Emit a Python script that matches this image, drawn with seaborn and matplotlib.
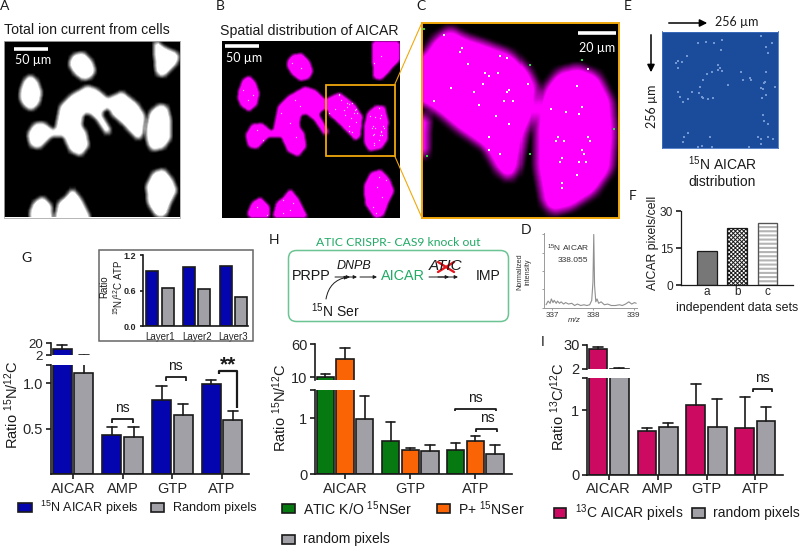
import numpy as np
import pandas as pd
import matplotlib
matplotlib.use('Agg')
import matplotlib.pyplot as plt
import seaborn as sns
from matplotlib.path import Path
from matplotlib.patches import Rectangle, FancyBboxPatch
from matplotlib.colors import LinearSegmentedColormap

sns.set_style('ticks')
plt.rcParams['font.family'] = ['Liberation Sans', 'DejaVu Sans']
plt.rcParams['mathtext.fontset'] = 'custom'
plt.rcParams['mathtext.rm'] = 'Liberation Sans'
plt.rcParams['mathtext.default'] = 'regular'
plt.rcParams['hatch.linewidth'] = 0.7

W, H = 800, 547
DARK = '#1a1a1a'
GRAY = '#a0a0a6'
BLUE = '#0505b0'
GREEN = '#067a10'
ORANGE = '#fb6405'
CRIMSON = '#cc0a62'
AMBER = '#f0a80c'

# panel G
g_names = ['AICAR', 'AMP', 'GTP', 'ATP']
g_pixels = [11.5, 0.43, 0.82, 0.99]
g_pixels_top = [16.5, 0.52, 0.97, 1.04]
g_random = [1.11, 0.41, 0.65, 0.60]
g_random_top = [2.3, 0.52, 0.77, 0.69]

# inset of G
layer_names = ['Layer1', 'Layer2', 'Layer3']
layer_pixels = [0.935, 1.005, 1.025]
layer_random = [0.65, 0.63, 0.49]

# panel H
h_names = ['AICAR', 'GTP', 'ATP']
h_ko = [11, 0.585, 0.44]
h_ko_top = [14.5, 0.93, 0.555]
h_p = [37, 0.43, 0.585]
h_p_top = [54, 0.47, 0.675]
h_random = [0.98, 0.41, 0.37]
h_random_top = [1.40, 0.515, 0.53]

# panel I
i_names = ['AICAR', 'AMP', 'GTP', 'ATP']
i_pixels = [24.8, 0.675, 1.09, 0.725]
i_pixels_top = [27.6, 0.73, 1.41, 1.21]
i_random = [2.0, 0.74, 0.75, 0.83]
i_random_top = [2.8, 0.80, 1.18, 1.05]

# panel F
f_names = ['a', 'b', 'c']
f_values = [14, 23, 25]

# panel D spectrum
d_mz = [336.85, 336.9, 336.95, 336.98, 337.02, 337.05, 337.1, 337.13, 337.18, 337.22, 337.28, 337.33,
        337.4, 337.48, 337.55, 337.62, 337.7, 337.78, 337.85, 337.92, 337.97, 338.0, 338.02, 338.04, 338.07,
        338.1, 338.14, 338.2, 338.28, 338.36, 338.45, 338.55, 338.65, 338.72, 338.8, 338.88, 338.95, 339.02, 339.06]
d_int = [0.04, 0.09, 0.06, 0.12, 0.07, 0.1, 0.06, 0.09, 0.06, 0.08, 0.05, 0.07,
         0.05, 0.06, 0.03, 0.05, 0.03, 0.04, 0.03, 0.04, 0.1, 0.35, 1.0, 0.3, 0.08,
         0.12, 0.06, 0.08, 0.04, 0.05, 0.03, 0.03, 0.04, 0.03, 0.05, 0.08, 0.05, 0.07, 0.06]

# cell outlines of panels A and B
cells_a = [
    [(210, 180), (225, 165), (250, 162), (272, 185), (282, 215), (270, 235), (245, 240), (222, 222), (208, 200)],
    [(60, 275), (72, 240), (90, 230), (108, 245), (120, 280), (112, 315), (90, 332), (68, 318), (58, 295)],
    [(165, 395), (180, 320), (210, 290), (260, 262), (290, 272), (320, 300), (365, 280), (410, 315), (432, 350),
     (425, 410), (412, 420), (370, 375), (335, 345), (328, 325), (310, 330), (300, 345), (330, 395), (320, 405),
     (290, 360), (265, 340), (245, 345), (240, 380), (255, 400), (262, 440), (240, 468), (210, 455), (190, 410),
     (150, 410), (115, 445), (90, 440), (82, 405), (100, 375), (130, 372), (150, 390)],
    [(440, 385), (450, 340), (475, 318), (500, 322), (510, 365), (508, 420), (490, 445), (455, 452), (442, 430)],
    [(465, 124), (490, 145), (535, 165), (530, 190), (490, 230), (470, 225), (465, 170)],
    [(440, 560), (460, 520), (490, 512), (515, 540), (528, 575), (510, 610), (495, 650), (470, 652), (445, 615)],
    [(88, 640), (100, 610), (125, 595), (150, 620), (152, 652), (90, 652)],
    [(165, 652), (175, 610), (195, 595), (215, 570), (240, 600), (265, 652)],
]
cell_b_corner = [(466, 124), (545, 124), (545, 180), (490, 238), (470, 232)]

# cell outlines of panel C
cells_c = [
    [(22, 170), (60, 115), (105, 85), (150, 110), (210, 130), (290, 160), (340, 210), (365, 260), (360, 340),
     (330, 400), (310, 510), (285, 540), (250, 515), (210, 445), (130, 390), (70, 340), (22, 310)],
    [(370, 320), (390, 265), (430, 215), (490, 200), (550, 225), (590, 300), (600, 400), (590, 510), (540, 580),
     (470, 625), (410, 640), (385, 610), (365, 500), (365, 400)],
    [(22, 350), (38, 350), (35, 460), (22, 470)],
]
c_white_x = [88, 140, 135, 255, 275, 158, 210, 223, 249, 204, 108, 178, 282, 275, 268, 294, 56, 191, 339, 243, 282, 223,
             223, 255, 519, 487, 500, 409, 454, 493, 429, 422, 448, 519, 525, 500, 506, 441, 435, 493, 512, 487, 441, 441]
c_white_y = [105, 143, 155, 168, 175, 193, 220, 227, 220, 252, 265, 277, 270, 277, 302, 302, 302, 315, 252, 347, 373, 410,
             450, 462, 207, 258, 322, 327, 335, 341, 410, 424, 424, 410, 424, 450, 462, 475, 487, 487, 487, 525, 551, 564]
c_green_x = [26, 345, 500, 596, 345, 37]
c_green_y = [86, 194, 181, 386, 462, 468]

# extra pale pixels of panel B, outside the zoomed box
b_white_x = [730, 745, 760, 878, 905, 920, 885, 845, 870, 900, 890, 770, 790, 850, 870, 895, 1135, 1150, 1120, 1160, 1130,
             1145, 770, 800, 850, 880, 1165, 1140, 1125]
b_white_y = [270, 300, 285, 190, 205, 175, 300, 340, 370, 320, 410, 390, 420, 600, 630, 590, 560, 590, 620, 540, 640,
             170, 620, 645, 640, 610, 620, 530, 190]

# panel E pixels
e_x = [850, 873, 897, 920, 918, 1040, 1072, 1055, 1060, 815, 800, 790, 782, 788, 910, 915, 920, 908, 875, 890, 980, 985,
       1005, 1010, 1055, 1052, 1048, 863, 855, 852, 940, 1038, 1044, 1080, 1054, 790, 803, 832, 860, 865, 880, 895, 818,
       795, 1042, 1045, 1048, 1060, 820, 808, 805, 885, 1030, 1038, 1060, 1075, 860, 848, 890, 1003, 1040]
e_y = [130, 127, 130, 120, 150, 108, 128, 140, 160, 167, 185, 183, 190, 205, 195, 205, 212, 210, 222, 215, 217, 240,
       233, 240, 215, 245, 250, 240, 262, 278, 255, 265, 268, 260, 285, 277, 305, 275, 290, 295, 298, 295, 298,
       290, 295, 345, 362, 372, 400, 410, 425, 412, 410, 417, 412, 418, 437, 440, 440, 440, 432]


def px_axes(x0, y0, x1, y1):
    # axes placed by its pixel box in the 800x547 picture
    ax = fig.add_axes([x0 / W, 1 - y1 / H, (x1 - x0) / W, (y1 - y0) / H])
    ax.patch.set_alpha(0)
    return ax


def cell_image(outlines, xr, yr, n, blur, boost):
    xs = np.linspace(xr[0], xr[1], n)
    ys = np.linspace(yr[0], yr[1], n)
    gx, gy = np.meshgrid(xs, ys)
    pts = np.column_stack([gx.ravel(), gy.ravel()])
    mask = np.zeros(gx.shape)
    for cell in outlines:
        mask = np.maximum(mask, Path(cell).contains_points(pts).reshape(gx.shape).astype(float))
    kernel = np.ones(blur) / blur
    pad = blur
    mask = np.pad(mask, pad, mode='edge')
    mask = np.apply_along_axis(lambda r: np.convolve(r, kernel, mode='same'), 0, mask)
    mask = np.apply_along_axis(lambda r: np.convolve(r, kernel, mode='same'), 1, mask)
    mask = mask[pad:-pad, pad:-pad]
    return np.clip(mask * boost, 0, 1)


def on_cells(xs, ys, outlines):
    # keep only the points that fall on a cell
    pts = np.column_stack([xs, ys])
    keep = np.zeros(len(pts), dtype=bool)
    for cell in outlines:
        keep |= Path(cell).contains_points(pts)
    return pts[keep]


def bar_panel(ax, names, series, tops, colors, width, gap, ylim):
    # one dodged seaborn barplot with error bars going up only
    frame = pd.DataFrame({
        'name': np.tile(names, len(series)),
        'hue': np.repeat(list(range(len(series))), len(names)),
        'value': np.concatenate(series),
    })
    sns.barplot(data=frame, x='name', y='value', hue='hue', palette=colors, width=width, gap=gap,
                edgecolor=DARK, linewidth=1.2, saturation=1, legend=False, ax=ax)
    ax.set_ylim(*ylim)
    if tops is None:
        return
    for bars, top in zip(ax.containers, tops):
        for bar, t in zip(bars, top):
            h = bar.get_height()
            mid = bar.get_x() + bar.get_width() / 2
            cap = bar.get_width() * 0.27
            if t < ylim[0]:
                continue
            ax.plot([mid, mid], [h, t], color=DARK, lw=1.2, zorder=5)
            if t <= ylim[1]:
                ax.plot([mid - cap, mid + cap], [t, t], color=DARK, lw=1.2, zorder=5)


def finish_axis(ax, fs):
    for side in ['left', 'bottom']:
        ax.spines[side].set_linewidth(1.2)
        ax.spines[side].set_color(DARK)
    ax.spines['top'].set_visible(False)
    ax.spines['right'].set_visible(False)
    ax.tick_params(length=3.5, width=1.2, color=DARK, labelsize=fs, pad=2)
    ax.set_xlabel('')
    ax.set_ylabel('')


def broken_panel(box, split, xlim, names, series, tops, colors, width, low, high, low_ticks, low_labels, high_ticks, high_fs=10.5):
    x0, y0, x1, y1 = box
    upper = px_axes(x0, y0, x1, split[0])
    lower = px_axes(x0, split[1], x1, y1)
    bar_panel(upper, names, series, tops, colors, width, 0.12, high)
    bar_panel(lower, names, series, tops, colors, width, 0.12, low)
    for ax in [upper, lower]:
        ax.set_xlim(*xlim)
        finish_axis(ax, 10.5)
    upper.set_yticks(high_ticks)
    upper.spines['bottom'].set_visible(False)
    upper.tick_params(axis='x', bottom=False, labelbottom=False)
    upper.tick_params(axis='y', labelsize=high_fs)
    lower.set_yticks(low_ticks)
    lower.set_yticklabels(low_labels)
    return upper, lower


def bracket(x0, x1, y, drop0, drop1, label=None, lx=None, ly=None, lw=1.3, fs=10, weight='normal'):
    ov.plot([x0, x0, x1, x1], [y + drop0, y, y, y + drop1], color=DARK, lw=lw, solid_capstyle='butt')
    if label:
        ov.text(lx, ly, label, ha='center', va='center', fontsize=fs, color=DARK, fontweight=weight)


def legend_box(x0, y0, x1, y1, color, tx, label, fs):
    ov.add_patch(Rectangle((x0, y0), x1 - x0, y1 - y0, facecolor=color, edgecolor=DARK, lw=1.2))
    ov.text(tx, (y0 + y1) / 2, label, ha='left', va='center', fontsize=fs, color=DARK)


fig = plt.figure(figsize=(8, 5.47), dpi=100)
ov = fig.add_axes([0, 0, 1, 1], zorder=10)
ov.set_xlim(0, W)
ov.set_ylim(H, 0)
ov.axis('off')

white_map = LinearSegmentedColormap.from_list('w', ['black', 'white'])
pink_map = LinearSegmentedColormap.from_list('p', ['black', '#ff00ff'])

# panel A
ax_a = px_axes(3.5, 41, 179.5, 217.5)
ax_a.imshow(cell_image(cells_a, (10, 538), (124, 652), 176, 7, 1.55), cmap=white_map, vmin=0, vmax=1,
            extent=(10, 538, 652, 124), aspect='auto', interpolation='bilinear')
ax_a.set_xticks([])
ax_a.set_yticks([])
for s in ax_a.spines.values():
    s.set_color('#aaaaaa')
    s.set_linewidth(0.6)

# panel B, same field as A
ax_b = px_axes(221.5, 41, 399, 218)
b_cells = cells_a + [cell_b_corner]
ax_b.imshow(cell_image(b_cells, (10, 546), (124, 654), 178, 5, 1.6), cmap=pink_map, vmin=0, vmax=1,
            extent=(10, 546, 654, 124), aspect='auto', interpolation='bilinear')
b_pts = on_cells(np.array(b_white_x) - 654, b_white_y, b_cells)
ax_b.scatter(b_pts[:, 0], b_pts[:, 1], s=0.9, c='#ffc8ff', linewidths=0)
c_in_b_x = [(x - 22) / 590 * 206 + 324 for x in c_white_x]
c_in_b_y = [(y - 67) / 588 * 212 + 255 for y in c_white_y]
c_pts = on_cells(c_in_b_x, c_in_b_y, b_cells)
ax_b.scatter(c_pts[:, 0], c_pts[:, 1], s=0.9, c='#ffc8ff', linewidths=0)
ax_b.set_xlim(10, 546)
ax_b.set_ylim(654, 124)
ax_b.set_xticks([])
ax_b.set_yticks([])
for s in ax_b.spines.values():
    s.set_visible(False)

# panel C
ax_c = px_axes(422.5, 22.5, 619, 218)
ax_c.imshow(cell_image(cells_c, (22, 612), (67, 655), 196, 13, 1.35), cmap=pink_map, vmin=0, vmax=1,
            extent=(22, 612, 655, 67), aspect='auto', interpolation='nearest')
ax_c.scatter(c_white_x, c_white_y, s=3, c='white', marker='s', linewidths=0)
ax_c.scatter(c_green_x, c_green_y, s=3, c='#22dd44', marker='s', linewidths=0)
ax_c.set_xlim(22, 612)
ax_c.set_ylim(655, 67)
ax_c.set_xticks([])
ax_c.set_yticks([])
for s in ax_c.spines.values():
    s.set_color(AMBER)
    s.set_linewidth(1.4)

# panel E
ax_e = px_axes(661.5, 31.5, 778, 148)
ax_e.set_facecolor('#1b4b9b')
ax_e.patch.set_alpha(1)
ax_e.scatter(e_x, e_y, s=0.8, c='#7397d2', marker='s', linewidths=0)
ax_e.set_xlim(739, 1090)
ax_e.set_ylim(444, 94)
ax_e.set_xticks([])
ax_e.set_yticks([])
for s in ax_e.spines.values():
    s.set_color('#3f6fc0')
    s.set_linewidth(0.6)

# panel D
ax_d = px_axes(544, 233, 637, 307.7)
sns.lineplot(x=d_mz, y=d_int, color='#8f8f8f', lw=0.8, ax=ax_d)
ax_d.set_xlim(336.8, 339.08)
ax_d.set_ylim(0, 1.02)
ax_d.set_xticks([337, 338, 339])
ax_d.set_yticks([0, 0.25, 0.5, 0.75, 1.0])
ax_d.set_yticklabels([])
for side in ['left', 'bottom']:
    ax_d.spines[side].set_color('#9a9a9a')
    ax_d.spines[side].set_linewidth(0.7)
ax_d.spines['top'].set_visible(False)
ax_d.spines['right'].set_visible(False)
ax_d.tick_params(length=1.5, width=0.5, color='#777777', labelsize=5.8, labelcolor='#333333', pad=1.5)

# panel F
ax_f = px_axes(680.7, 211, 793, 285.3)
sns.barplot(x=f_names, y=f_values, color='#777777', width=0.65, edgecolor=DARK, linewidth=0.9, saturation=1, ax=ax_f)
f_bars = ax_f.containers[0]
f_bars[1].set_facecolor('white')
f_bars[1].set_hatch('xxxxxxxx')
f_bars[2].set_facecolor('white')
f_bars[2].set_edgecolor('#b4b4b4')
f_bars[2].set_hatch('----')
f_bars[2].set_hatch_linewidth(1.5)
ax_f.add_patch(Rectangle((f_bars[2].get_x(), 0), f_bars[2].get_width(), f_bars[2].get_height(), fill=False,
                         edgecolor='#555555', lw=0.9))
ax_f.set_xlim(-0.87, 2.85)
ax_f.set_ylim(0, 30)
ax_f.set_yticks([0, 15, 30])
finish_axis(ax_f, 8.6)
ax_f.tick_params(axis='x', labelsize=8.5, pad=0.5, length=0)
ax_f.spines['left'].set_linewidth(0.9)
ax_f.spines['bottom'].set_linewidth(0.9)

# panel G
g_xlim = ((50.7 - 73) / 49.7, (249 - 73) / 49.7)
broken_panel((50.7, 343, 249, 474), (355, 365), g_xlim, g_names, [g_pixels, g_random], [g_pixels_top, g_random_top],
             [BLUE, GRAY], 0.873, (0, 1.2), (2, 20), [0.5, 1.0, 1.2], ['0.5', '1.0', ''], [2, 20], high_fs=9.6)

# inset of G
ax_in = px_axes(142.7, 255.3, 248, 326)
bar_panel(ax_in, layer_names, [layer_pixels, layer_random], None, [BLUE, GRAY], 0.835, 0.22, (0, 1.2))
ax_in.set_xlim((142.7 - 160) / 36.7, (248 - 160) / 36.7)
ax_in.set_yticks([0, 0.6, 1.2])
ax_in.set_yticklabels(['0.0', '0.6', '1.2'], fontweight='bold')
finish_axis(ax_in, 7)
ax_in.tick_params(axis='x', bottom=False, pad=0.5)
ax_in.tick_params(axis='y', length=2.5, labelsize=6.5)

# panel H
h_xlim = ((315 - 345) / 65.2, (512 - 345) / 65.2)
broken_panel((315, 344, 512, 474.3), (380, 390), h_xlim, h_names, [h_ko, h_p, h_random], [h_ko_top, h_p_top, h_random_top],
             [GREEN, ORANGE, GRAY], 0.906, (0, 1.5), (6, 60), [0, 1, 1.5], ['0', '1', ''], [10, 60])

# panel I
i_xlim = ((587 - 608.7) / 48.9, (782.7 - 608.7) / 48.9)
broken_panel((587, 344.7, 782.7, 474.7), (369, 378.3), i_xlim, i_names, [i_pixels, i_random], [i_pixels_top, i_random_top],
             [CRIMSON, GRAY], 0.873, (0, 1.5), (2, 30), [0, 1, 1.5], ['0', '1', ''], [2, 30])

# connector of the zoom box from B to C
ov.add_patch(Rectangle((326, 85), 68.5, 70.5, fill=False, edgecolor=AMBER, lw=1.3))
ov.plot([394.5, 422], [85, 22.5], color=AMBER, lw=0.8)
ov.plot([394.5, 422], [155.5, 218], color=AMBER, lw=0.8)

# scale bars
for sx0, sx1, sy, lx, ly, lab in [(13.5, 47.5, 48.5, 33, 60.5, '50 µm'), (224.5, 258.5, 45.5, 244.5, 58, '50 µm'),
                                  (577.5, 616, 33, 597, 47.5, '20 µm')]:
    ov.plot([sx0, sx1], [sy, sy], color='white', lw=2.6, solid_capstyle='butt')
    ov.text(lx, ly, lab, color='white', ha='center', va='center', fontsize=9, family=['Lato', 'DejaVu Sans'])

# panel letters and titles
for x, y, letter in [(5, 6, 'A'), (220.5, 6, 'B'), (421, 6, 'C'), (628, 6, 'E'), (633, 196, 'F'), (26, 258, 'G'),
                     (274, 240, 'H'), (543, 342, 'I'), (526, 230, 'D')]:
    ov.text(x, y, letter, ha='center', va='center', fontsize=10, color=DARK, family=['Lato', 'DejaVu Sans'])
ov.text(4, 29.5, 'Total ion current from cells', ha='left', va='center', fontsize=10.2, color=DARK)
ov.text(220.5, 30.5, 'Spatial distribution of AICAR', ha='left', va='center', fontsize=10.2, color=DARK)

# panel E text
ov.annotate('', xy=(710, 23), xytext=(666, 23), arrowprops=dict(arrowstyle='-|>', color='black', lw=1.1, mutation_scale=11))
ov.annotate('', xy=(651, 75), xytext=(651, 32), arrowprops=dict(arrowstyle='-|>', color='black', lw=1.1, mutation_scale=11))
ov.text(737, 22, '256 µm', ha='center', va='center', fontsize=9, color=DARK, family=['Lato', 'DejaVu Sans'])
ov.text(652, 106, '256 µm', ha='center', va='center', rotation=90, fontsize=9, color=DARK, family=['Lato', 'DejaVu Sans'])
ov.text(722, 172, '$^{15}$N AICAR\ndistribution', ha='center', va='center', fontsize=10, color=DARK, linespacing=1.2)

# panel F text
ov.text(653, 243, 'AICAR pixels/cell', ha='center', va='center', rotation=90, fontsize=8.8, color=DARK)
ov.text(737, 308, 'independent data sets', ha='center', va='center', fontsize=8.9, color=DARK)

# panel D text
ov.text(524, 272, 'Normalized\nintensity', ha='center', va='center', rotation=90, fontsize=5.2, color='#333333', linespacing=1.1)
ov.text(547, 248, '$^{15}$N AICAR', ha='left', va='center', fontsize=6, color='#333333')
ov.text(588.5, 260.5, '338.055', ha='right', va='center', fontsize=6, color='#333333')
ov.text(574.5, 321, 'm/z', ha='center', va='center', fontsize=5.8, style='italic', color='#333333')

# panel G text
ov.add_patch(Rectangle((99, 250), 154, 91, fill=False, edgecolor='#666666', lw=1.1))
ov.text(112, 287, 'Ratio\n$^{15}$N/$^{12}$C ATP', ha='center', va='center', rotation=90, fontsize=7, color=DARK, linespacing=1.2)
ov.text(12, 405, 'Ratio $^{15}$N/$^{12}$C', ha='center', va='center', rotation=90, fontsize=10.5, color=DARK)
bracket(112, 132.5, 418.5, 4, 4, 'ns', 122, 407.5)
bracket(166, 185.5, 377, 4, 4, 'ns', 175.5, 366.5)
bracket(219, 236.5, 371, 3, 37, '**', 228.5, 365, lw=1.6, fs=15, weight='bold')
legend_box(17.5, 503, 31.5, 512, BLUE, 40, '$^{15}$N AICAR pixels', 9.1)
legend_box(151, 503, 164, 512, GRAY, 173, 'Random pixels', 9.1)

# panel H schematic
ov.text(398, 243, 'ATIC CRISPR- CAS9 knock out', ha='center', va='center', fontsize=8.7, color='#22aa66',
        family=['Lato', 'DejaVu Sans'])
ov.add_patch(FancyBboxPatch((292, 254), 213, 64, boxstyle='round,pad=3.5,rounding_size=8', fill=False,
                            edgecolor='#6cc494', lw=1.1))
ov.text(311.5, 276.5, 'PRPP', ha='center', va='center', fontsize=10.4, color=DARK)
ov.text(354, 266, 'DNPB', ha='center', va='center', fontsize=9, style='italic', color=DARK)
ov.text(402.5, 276.5, 'AICAR', ha='center', va='center', fontsize=10.4, color='#22aa66')
ov.text(446, 266, 'ATIC', ha='center', va='center', fontsize=11, style='italic', color=DARK)
ov.text(488.5, 276.5, 'IMP', ha='center', va='center', fontsize=10.1, color=DARK)
ov.text(335.5, 311, '$^{15}$N Ser', ha='center', va='center', fontsize=10, color=DARK)
arrow_style = dict(arrowstyle='-|>', color=DARK, lw=0.7, mutation_scale=5, shrinkA=0, shrinkB=0)
ov.annotate('', xy=(350, 277), xytext=(335, 277), arrowprops=arrow_style)
ov.annotate('', xy=(357, 277), xytext=(348, 277), arrowprops=arrow_style)
ov.annotate('', xy=(377, 277), xytext=(360, 277), arrowprops=arrow_style)
ov.annotate('', xy=(458, 277), xytext=(429, 277), arrowprops=arrow_style)
ov.annotate('', xy=(449, 277), xytext=(438, 277), arrowprops=arrow_style)
ov.annotate('', xy=(348, 277), xytext=(326, 299), arrowprops=dict(connectionstyle='arc3,rad=-0.35', **arrow_style))
ov.plot([438, 454], [262, 272], color='#e8141c', lw=1.7)
ov.plot([438, 454], [272, 262], color='#e8141c', lw=1.7)

# panel H text
ov.text(280, 408, 'Ratio $^{15}$N/$^{12}$C', ha='center', va='center', rotation=90, fontsize=10.5, color=DARK)
bracket(455, 496, 408.5, 2, 2, 'ns', 475, 397.5)
bracket(476, 497, 429, 3, 3, 'ns', 487, 418)
legend_box(282, 504, 295, 513, GREEN, 303, 'ATIC K/O $^{15}$NSer', 10.1)
legend_box(437, 504, 450, 513, ORANGE, 458, 'P+ $^{15}$NSer', 10.1)
legend_box(282, 535, 295, 544, GRAY, 303, 'random pixels', 10)

# panel I text
ov.text(558, 407, 'Ratio $^{13}$C/$^{12}$C', ha='center', va='center', rotation=90, fontsize=10.5, color=DARK)
bracket(752.5, 772, 389, 3, 3, 'ns', 762, 378)
legend_box(553.5, 508, 566, 518, CRIMSON, 575, '$^{13}$C AICAR pixels', 10)
legend_box(692, 508, 705, 518, GRAY, 713, 'random pixels', 10)

fig.savefig('out.png', dpi=100)
plt.close(fig)
